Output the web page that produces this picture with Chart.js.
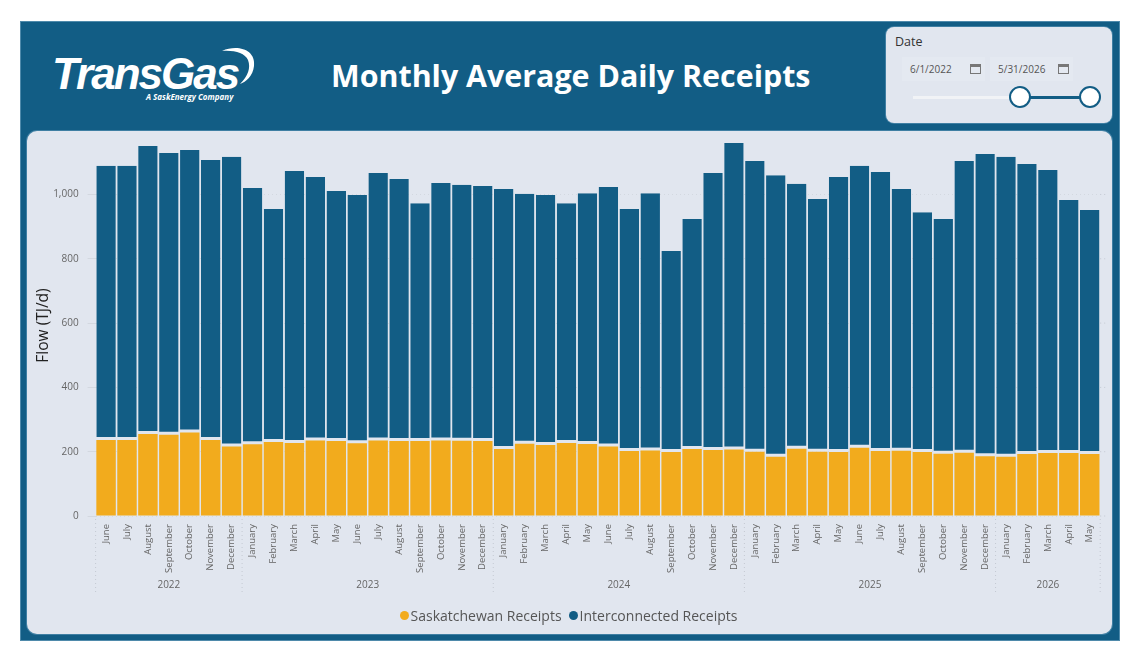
<!DOCTYPE html>
<html>
<head>
<meta charset="utf-8">
<script src="https://cdn.jsdelivr.net/npm/chart.js@4"></script>
<style>
  html, body { margin: 0; background: #fff; font-family: "Open Sans", sans-serif; }
  #frame { position: absolute; left: 20px; top: 21px; width: 1100px; height: 620px; background: #125d85; box-shadow: inset 0 0 0 1px #4f8aab; }
  #panel { position: absolute; left: 27px; top: 131px; width: 1085px; height: 503px; background: #e1e6ef; border-radius: 10px; box-shadow: 0 0 0 1px #3f7fa3; }
  #chartBox { position: absolute; left: 27px; top: 119px; width: 1085px; height: 515px; }
  #title { position: absolute; left: 331px; top: 55px; font-size: 30.4px; font-weight: 700; color: #fff; white-space: nowrap; }
  #logo { position: absolute; left: 52px; top: 49px; color: #fff; font: italic 700 44px "Liberation Sans", sans-serif; letter-spacing: -2px; }
  #tag { position: absolute; left: 146px; top: 91px; color: #fff; font: italic 700 8px "Open Sans", sans-serif; white-space: nowrap; }
  #arc { position: absolute; left: 210px; top: 44px; }
  #slicer { position: absolute; left: 886px; top: 27px; width: 226px; height: 96px; background: #e1e6ef; border-radius: 8px; box-shadow: 0 0 0 1px #3f7fa3; }
  #slicer .head { position: absolute; left: 9px; top: 6px; font-size: 12.5px; color: #333; }
  .dateBox { position: absolute; top: 30px; width: 83px; height: 24px; background: #e4e9f1; color: #555; font-size: 10px; line-height: 24px; text-indent: 8px; }
  .cal { position: absolute; right: 4px; top: 7px; width: 9px; height: 6px; border: 1px solid #777; border-top-width: 3px; }
  #track { position: absolute; left: 27px; top: 69px; width: 107px; height: 3px; background: #f1f3f6; }
  #range { position: absolute; left: 134px; top: 69px; width: 70px; height: 3px; background: #125d85; }
  .knob { position: absolute; top: 59px; width: 18px; height: 18px; background: #fff; border: 2px solid #125d85; border-radius: 50%; }
  #legend { position: absolute; left: 399.5px; top: 605px; height: 20px; display: flex; align-items: center; font-size: 14px; color: #555; white-space: nowrap; }
  #legend i { display: inline-block; width: 9px; height: 9px; border-radius: 50%; margin-right: 2px; }
  #legend span { margin-right: 7px; }
</style>
</head>
<body>
<div id="frame"></div>
<div id="logo">TransGas</div>
<svg id="arc" width="50" height="50"><path d="M12 7 C28 0 46 6 44 22 C43 32 36 38 30 40 C38 32 41 24 38 16 C35 9 24 6 12 7 Z" fill="#fff"/></svg>
<div id="tag">A SaskEnergy Company</div>
<div id="title">Monthly Average Daily Receipts</div>
<div id="slicer">
  <div class="head">Date</div>
  <div class="dateBox" style="left:16px">6/1/2022<span class="cal"></span></div>
  <div class="dateBox" style="left:104px">5/31/2026<span class="cal"></span></div>
  <div id="track"></div>
  <div id="range"></div>
  <div class="knob" style="left:123px"></div>
  <div class="knob" style="left:193px"></div>
</div>
<div id="panel"></div>
<div id="chartBox"><canvas id="chart"></canvas></div>
<div id="legend"></div>
<script>
var months = [
  'June','July','August','September','October','November','December',
  'January','February','March','April','May','June','July','August','September','October','November','December',
  'January','February','March','April','May','June','July','August','September','October','November','December',
  'January','February','March','April','May','June','July','August','September','October','November','December',
  'January','February','March','April','May'
]
var years = ['2022','2023','2024','2025','2026']
var yearCounts = [7, 12, 12, 12, 5]
var saskReceipts = [
  236,236,255,253,260,236,216,
  223,230,227,235,233,226,235,233,233,235,234,233,
  208,225,221,227,224,216,202,204,199,208,205,207,
  200,184,209,200,199,212,202,203,199,194,197,186,
  184,193,196,196,193
]
var totals = [
  1089,1089,1151,1129,1138,1107,1117,
  1020,955,1073,1054,1011,998,1067,1048,973,1036,1030,1026,
  1017,1002,998,973,1004,1023,955,1004,824,924,1067,1160,
  1104,1060,1033,986,1054,1089,1070,1017,945,924,1104,1126,
  1117,1095,1076,983,952
]
var interconnected = totals.map(function (t, i) { return t - saskReceipts[i] })
var yTicks = [0, 200, 400, 600, 800, 1000]
var seriesNames = ['Saskatchewan Receipts', 'Interconnected Receipts']
var seriesColors = ['#f2ab1d', '#125d85']

// year row under the month labels, with the dotted separators
var yearRow = {
  id: 'yearRow',
  afterDraw: function (chart) {
    var ctx = chart.ctx
    var x = chart.scales.x
    var yScale = chart.scales.y
    var slot = x.getPixelForValue(1) - x.getPixelForValue(0)
    var start = 0
    ctx.save()
    ctx.font = '10px "Open Sans"'
    ctx.fillStyle = '#666'
    ctx.textAlign = 'center'
    ctx.textBaseline = 'middle'
    ctx.setLineDash([1, 3])
    ctx.strokeStyle = '#c4c9d2'
    function sep (px) {
      ctx.beginPath()
      ctx.moveTo(px, chart.chartArea.bottom + 3)
      ctx.lineTo(px, 475)
      ctx.stroke()
    }
    sep(x.getPixelForValue(0) - slot / 2)
    years.forEach(function (y, i) {
      var left = x.getPixelForValue(start) - slot / 2
      var right = left + yearCounts[i] * slot
      ctx.fillText(y, (left + right) / 2, 466)
      sep(right)
      start += yearCounts[i]
    })
    // grid runs a little past the last bar
    yTicks.forEach(function (v) {
      var py = yScale.getPixelForValue(v)
      ctx.beginPath()
      ctx.moveTo(chart.chartArea.right, py)
      ctx.lineTo(chart.chartArea.right + 6, py)
      ctx.stroke()
    })
    ctx.restore()
  }
}

new Chart(document.getElementById('chart').getContext('2d'), {
  type: 'bar',
  data: {
    labels: months,
    datasets: [
      { label: seriesNames[0], data: saskReceipts, backgroundColor: seriesColors[0] },
      { label: seriesNames[1], data: interconnected, backgroundColor: seriesColors[1], borderColor: '#e1e6ef', borderWidth: { bottom: 3 }, borderSkipped: false }
    ]
  },
  options: {
    animation: false,
    responsive: true,
    maintainAspectRatio: false,
    layout: { padding: { left: 7, right: 11.8, top: 16, bottom: 6 } },
    datasets: { bar: { categoryPercentage: 1, barPercentage: 0.93 } },
    plugins: {
      tooltip: { enabled: false },
      legend: { display: false }
    },
    scales: {
      x: {
        stacked: true,
        grid: { display: false },
        border: { display: false },
        ticks: { autoSkip: false, maxRotation: 90, minRotation: 90, color: '#666', padding: 0, font: { family: '"Open Sans"', size: 9.5 } },
        afterFit: function (s) { s.height = 112 }
      },
      y: {
        stacked: true,
        min: 0,
        max: 1185,
        afterBuildTicks: function (s) { s.ticks = yTicks.map(function (v) { return { value: v } }) },
        afterFit: function (s) { s.width = 61.6 },
        grid: { color: '#d3d8e0', tickLength: 8 },
        border: { display: false, dash: [1, 3] },
        ticks: { color: '#666', padding: 9, font: { family: '"Open Sans"', size: 10 } },
        title: { display: true, text: 'Flow (TJ/d)', color: '#222', font: { family: '"Open Sans"', size: 15.5 }, padding: { top: 0, bottom: 0 } }
      }
    }
  },
  plugins: [yearRow]
})

seriesNames.forEach(function (name, i) {
  var legend = document.getElementById('legend')
  var dot = document.createElement('i')
  var text = document.createElement('span')
  dot.style.background = seriesColors[i]
  text.textContent = name
  legend.appendChild(dot)
  legend.appendChild(text)
})
</script>
</body>
</html>
